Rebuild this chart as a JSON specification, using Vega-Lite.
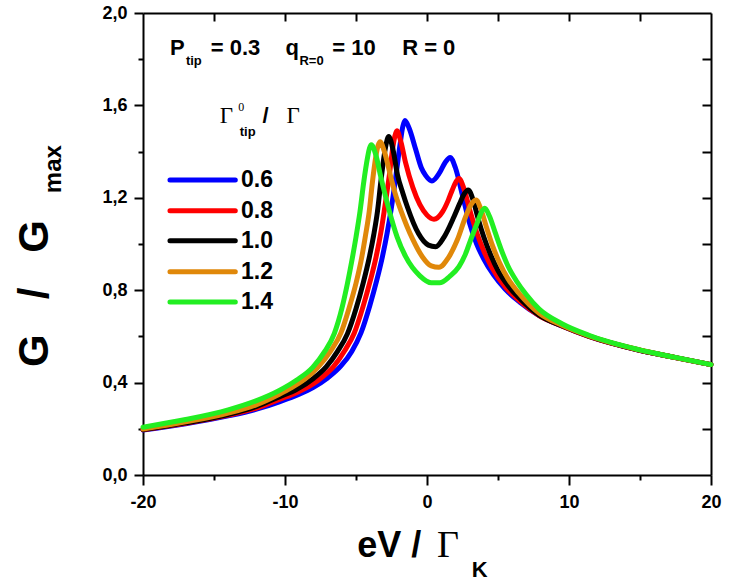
{
  "$schema": "https://vega.github.io/schema/vega-lite/v6.json",
  "description": "Normalized conductance G/Gmax versus eV/Gamma_K for five tip coupling ratios.",
  "width": 568,
  "height": 462,
  "autosize": {"type": "none"},
  "padding": {"left": 143, "top": 13, "right": 28, "bottom": 106},
  "background": "white",
  "layer": [
    {
      "data": {
        "values": [
          {"ratio": "0.6", "eV": -20, "G": 0.195}, {"ratio": "0.6", "eV": -17, "G": 0.222}, {"ratio": "0.6", "eV": -14, "G": 0.256},
          {"ratio": "0.6", "eV": -12, "G": 0.285}, {"ratio": "0.6", "eV": -10.4, "G": 0.317}, {"ratio": "0.6", "eV": -9, "G": 0.35},
          {"ratio": "0.6", "eV": -8, "G": 0.38}, {"ratio": "0.6", "eV": -7, "G": 0.42}, {"ratio": "0.6", "eV": -6.06, "G": 0.472},
          {"ratio": "0.6", "eV": -5.3, "G": 0.535}, {"ratio": "0.6", "eV": -4.65, "G": 0.615}, {"ratio": "0.6", "eV": -4.02, "G": 0.735},
          {"ratio": "0.6", "eV": -3.55, "G": 0.84}, {"ratio": "0.6", "eV": -3.14, "G": 0.945}, {"ratio": "0.6", "eV": -2.8, "G": 1.05},
          {"ratio": "0.6", "eV": -2.55, "G": 1.14}, {"ratio": "0.6", "eV": -2.2, "G": 1.29}, {"ratio": "0.6", "eV": -1.9, "G": 1.43},
          {"ratio": "0.6", "eV": -1.7, "G": 1.51}, {"ratio": "0.6", "eV": -1.55, "G": 1.535}, {"ratio": "0.6", "eV": -1.25, "G": 1.5},
          {"ratio": "0.6", "eV": -0.8, "G": 1.41}, {"ratio": "0.6", "eV": -0.4, "G": 1.33}, {"ratio": "0.6", "eV": -0.1, "G": 1.297},
          {"ratio": "0.6", "eV": 0.35, "G": 1.273}, {"ratio": "0.6", "eV": 0.9, "G": 1.31}, {"ratio": "0.6", "eV": 1.3, "G": 1.355},
          {"ratio": "0.6", "eV": 1.63, "G": 1.375}, {"ratio": "0.6", "eV": 2.0, "G": 1.33}, {"ratio": "0.6", "eV": 2.5, "G": 1.21},
          {"ratio": "0.6", "eV": 3.0, "G": 1.09}, {"ratio": "0.6", "eV": 3.5, "G": 1.0}, {"ratio": "0.6", "eV": 4.0, "G": 0.935},
          {"ratio": "0.6", "eV": 4.7, "G": 0.865}, {"ratio": "0.6", "eV": 5.5, "G": 0.805}, {"ratio": "0.6", "eV": 6.5, "G": 0.75},
          {"ratio": "0.6", "eV": 7.9, "G": 0.69}, {"ratio": "0.6", "eV": 9.5, "G": 0.645}, {"ratio": "0.6", "eV": 11.4, "G": 0.6},
          {"ratio": "0.6", "eV": 14.9, "G": 0.541}, {"ratio": "0.6", "eV": 17.5, "G": 0.508}, {"ratio": "0.6", "eV": 20, "G": 0.478},

          {"ratio": "0.8", "eV": -20, "G": 0.196}, {"ratio": "0.8", "eV": -17, "G": 0.224}, {"ratio": "0.8", "eV": -14, "G": 0.259},
          {"ratio": "0.8", "eV": -12, "G": 0.29}, {"ratio": "0.8", "eV": -10.4, "G": 0.327}, {"ratio": "0.8", "eV": -9, "G": 0.362},
          {"ratio": "0.8", "eV": -8, "G": 0.395}, {"ratio": "0.8", "eV": -7.5, "G": 0.418}, {"ratio": "0.8", "eV": -6.6, "G": 0.468},
          {"ratio": "0.8", "eV": -5.8, "G": 0.538}, {"ratio": "0.8", "eV": -5.12, "G": 0.615}, {"ratio": "0.8", "eV": -4.5, "G": 0.73},
          {"ratio": "0.8", "eV": -4.0, "G": 0.84}, {"ratio": "0.8", "eV": -3.6, "G": 0.94}, {"ratio": "0.8", "eV": -3.25, "G": 1.05},
          {"ratio": "0.8", "eV": -3.02, "G": 1.14}, {"ratio": "0.8", "eV": -2.67, "G": 1.29}, {"ratio": "0.8", "eV": -2.4, "G": 1.42},
          {"ratio": "0.8", "eV": -2.25, "G": 1.47}, {"ratio": "0.8", "eV": -2.12, "G": 1.49}, {"ratio": "0.8", "eV": -1.85, "G": 1.445},
          {"ratio": "0.8", "eV": -1.5, "G": 1.35}, {"ratio": "0.8", "eV": -1.0, "G": 1.245}, {"ratio": "0.8", "eV": -0.5, "G": 1.17},
          {"ratio": "0.8", "eV": 0.0, "G": 1.125}, {"ratio": "0.8", "eV": 0.49, "G": 1.107}, {"ratio": "0.8", "eV": 1.1, "G": 1.14},
          {"ratio": "0.8", "eV": 1.5, "G": 1.19}, {"ratio": "0.8", "eV": 1.78, "G": 1.234}, {"ratio": "0.8", "eV": 2.05, "G": 1.27},
          {"ratio": "0.8", "eV": 2.25, "G": 1.284}, {"ratio": "0.8", "eV": 2.6, "G": 1.24}, {"ratio": "0.8", "eV": 3.0, "G": 1.15},
          {"ratio": "0.8", "eV": 3.5, "G": 1.05}, {"ratio": "0.8", "eV": 4.0, "G": 0.97}, {"ratio": "0.8", "eV": 4.6, "G": 0.895},
          {"ratio": "0.8", "eV": 5.5, "G": 0.815}, {"ratio": "0.8", "eV": 6.5, "G": 0.755}, {"ratio": "0.8", "eV": 7.9, "G": 0.69},
          {"ratio": "0.8", "eV": 9.5, "G": 0.645}, {"ratio": "0.8", "eV": 11.4, "G": 0.6}, {"ratio": "0.8", "eV": 14.9, "G": 0.541},
          {"ratio": "0.8", "eV": 17.5, "G": 0.508}, {"ratio": "0.8", "eV": 20, "G": 0.478},

          {"ratio": "1.0", "eV": -20, "G": 0.197}, {"ratio": "1.0", "eV": -17, "G": 0.226}, {"ratio": "1.0", "eV": -14, "G": 0.262},
          {"ratio": "1.0", "eV": -12, "G": 0.297}, {"ratio": "1.0", "eV": -10.4, "G": 0.338}, {"ratio": "1.0", "eV": -9.2, "G": 0.37},
          {"ratio": "1.0", "eV": -8.0, "G": 0.418}, {"ratio": "1.0", "eV": -7.1, "G": 0.468}, {"ratio": "1.0", "eV": -6.3, "G": 0.535},
          {"ratio": "1.0", "eV": -5.6, "G": 0.612}, {"ratio": "1.0", "eV": -5.0, "G": 0.72}, {"ratio": "1.0", "eV": -4.5, "G": 0.83},
          {"ratio": "1.0", "eV": -4.07, "G": 0.94}, {"ratio": "1.0", "eV": -3.75, "G": 1.04}, {"ratio": "1.0", "eV": -3.49, "G": 1.14},
          {"ratio": "1.0", "eV": -3.25, "G": 1.27}, {"ratio": "1.0", "eV": -3.0, "G": 1.39}, {"ratio": "1.0", "eV": -2.85, "G": 1.44},
          {"ratio": "1.0", "eV": -2.7, "G": 1.465}, {"ratio": "1.0", "eV": -2.4, "G": 1.41}, {"ratio": "1.0", "eV": -2.08, "G": 1.3},
          {"ratio": "1.0", "eV": -1.7, "G": 1.22}, {"ratio": "1.0", "eV": -1.38, "G": 1.16}, {"ratio": "1.0", "eV": -0.6, "G": 1.045},
          {"ratio": "1.0", "eV": 0.1, "G": 0.995}, {"ratio": "1.0", "eV": 0.61, "G": 0.988}, {"ratio": "1.0", "eV": 1.2, "G": 1.03},
          {"ratio": "1.0", "eV": 1.9, "G": 1.118}, {"ratio": "1.0", "eV": 2.3, "G": 1.175}, {"ratio": "1.0", "eV": 2.6, "G": 1.215},
          {"ratio": "1.0", "eV": 2.9, "G": 1.234}, {"ratio": "1.0", "eV": 3.25, "G": 1.19}, {"ratio": "1.0", "eV": 3.6, "G": 1.11},
          {"ratio": "1.0", "eV": 4.0, "G": 1.03}, {"ratio": "1.0", "eV": 4.5, "G": 0.95}, {"ratio": "1.0", "eV": 5.0, "G": 0.885},
          {"ratio": "1.0", "eV": 5.7, "G": 0.82}, {"ratio": "1.0", "eV": 6.6, "G": 0.76}, {"ratio": "1.0", "eV": 7.9, "G": 0.692},
          {"ratio": "1.0", "eV": 9.5, "G": 0.646}, {"ratio": "1.0", "eV": 11.4, "G": 0.601}, {"ratio": "1.0", "eV": 14.9, "G": 0.541},
          {"ratio": "1.0", "eV": 17.5, "G": 0.508}, {"ratio": "1.0", "eV": 20, "G": 0.478},

          {"ratio": "1.2", "eV": -20, "G": 0.199}, {"ratio": "1.2", "eV": -17, "G": 0.23}, {"ratio": "1.2", "eV": -14, "G": 0.268},
          {"ratio": "1.2", "eV": -12, "G": 0.305}, {"ratio": "1.2", "eV": -10.4, "G": 0.35}, {"ratio": "1.2", "eV": -9.6, "G": 0.376},
          {"ratio": "1.2", "eV": -8.6, "G": 0.415}, {"ratio": "1.2", "eV": -7.7, "G": 0.465}, {"ratio": "1.2", "eV": -6.8, "G": 0.535},
          {"ratio": "1.2", "eV": -6.06, "G": 0.615}, {"ratio": "1.2", "eV": -5.5, "G": 0.72}, {"ratio": "1.2", "eV": -5.0, "G": 0.83},
          {"ratio": "1.2", "eV": -4.65, "G": 0.925}, {"ratio": "1.2", "eV": -4.35, "G": 1.03}, {"ratio": "1.2", "eV": -4.07, "G": 1.14},
          {"ratio": "1.2", "eV": -3.84, "G": 1.27}, {"ratio": "1.2", "eV": -3.6, "G": 1.38}, {"ratio": "1.2", "eV": -3.45, "G": 1.425},
          {"ratio": "1.2", "eV": -3.3, "G": 1.443}, {"ratio": "1.2", "eV": -3.0, "G": 1.4}, {"ratio": "1.2", "eV": -2.55, "G": 1.29},
          {"ratio": "1.2", "eV": -2.2, "G": 1.21}, {"ratio": "1.2", "eV": -1.85, "G": 1.147}, {"ratio": "1.2", "eV": -1.0, "G": 1.02},
          {"ratio": "1.2", "eV": -0.33, "G": 0.945}, {"ratio": "1.2", "eV": 0.3, "G": 0.905}, {"ratio": "1.2", "eV": 0.84, "G": 0.899},
          {"ratio": "1.2", "eV": 1.5, "G": 0.94}, {"ratio": "1.2", "eV": 2.13, "G": 1.017}, {"ratio": "1.2", "eV": 2.72, "G": 1.118},
          {"ratio": "1.2", "eV": 3.1, "G": 1.17}, {"ratio": "1.2", "eV": 3.46, "G": 1.19}, {"ratio": "1.2", "eV": 3.8, "G": 1.15},
          {"ratio": "1.2", "eV": 4.2, "G": 1.07}, {"ratio": "1.2", "eV": 4.6, "G": 0.995}, {"ratio": "1.2", "eV": 5.1, "G": 0.92},
          {"ratio": "1.2", "eV": 5.7, "G": 0.85}, {"ratio": "1.2", "eV": 6.5, "G": 0.785}, {"ratio": "1.2", "eV": 7.9, "G": 0.7},
          {"ratio": "1.2", "eV": 9.5, "G": 0.648}, {"ratio": "1.2", "eV": 11.4, "G": 0.602}, {"ratio": "1.2", "eV": 14.9, "G": 0.542},
          {"ratio": "1.2", "eV": 17.5, "G": 0.508}, {"ratio": "1.2", "eV": 20, "G": 0.478},

          {"ratio": "1.4", "eV": -20, "G": 0.207}, {"ratio": "1.4", "eV": -17, "G": 0.24}, {"ratio": "1.4", "eV": -14, "G": 0.282},
          {"ratio": "1.4", "eV": -12, "G": 0.322}, {"ratio": "1.4", "eV": -10.4, "G": 0.366}, {"ratio": "1.4", "eV": -9.2, "G": 0.41},
          {"ratio": "1.4", "eV": -8.05, "G": 0.466}, {"ratio": "1.4", "eV": -7.2, "G": 0.535}, {"ratio": "1.4", "eV": -6.53, "G": 0.612},
          {"ratio": "1.4", "eV": -6.0, "G": 0.72}, {"ratio": "1.4", "eV": -5.6, "G": 0.83}, {"ratio": "1.4", "eV": -5.3, "G": 0.925},
          {"ratio": "1.4", "eV": -5.0, "G": 1.03}, {"ratio": "1.4", "eV": -4.72, "G": 1.14}, {"ratio": "1.4", "eV": -4.45, "G": 1.27},
          {"ratio": "1.4", "eV": -4.2, "G": 1.37}, {"ratio": "1.4", "eV": -4.05, "G": 1.415}, {"ratio": "1.4", "eV": -3.92, "G": 1.43},
          {"ratio": "1.4", "eV": -3.6, "G": 1.385}, {"ratio": "1.4", "eV": -3.25, "G": 1.29}, {"ratio": "1.4", "eV": -2.67, "G": 1.147},
          {"ratio": "1.4", "eV": -2.1, "G": 1.03}, {"ratio": "1.4", "eV": -1.5, "G": 0.945}, {"ratio": "1.4", "eV": -0.5, "G": 0.862},
          {"ratio": "1.4", "eV": 0.3, "G": 0.832}, {"ratio": "1.4", "eV": 0.89, "G": 0.832}, {"ratio": "1.4", "eV": 1.6, "G": 0.86},
          {"ratio": "1.4", "eV": 2.25, "G": 0.902}, {"ratio": "1.4", "eV": 2.7, "G": 0.955}, {"ratio": "1.4", "eV": 3.07, "G": 1.017},
          {"ratio": "1.4", "eV": 3.53, "G": 1.09}, {"ratio": "1.4", "eV": 3.85, "G": 1.14}, {"ratio": "1.4", "eV": 4.07, "G": 1.155},
          {"ratio": "1.4", "eV": 4.4, "G": 1.12}, {"ratio": "1.4", "eV": 4.8, "G": 1.05}, {"ratio": "1.4", "eV": 5.2, "G": 0.98},
          {"ratio": "1.4", "eV": 5.7, "G": 0.905}, {"ratio": "1.4", "eV": 6.3, "G": 0.84}, {"ratio": "1.4", "eV": 7.0, "G": 0.78},
          {"ratio": "1.4", "eV": 7.9, "G": 0.718}, {"ratio": "1.4", "eV": 9.5, "G": 0.655}, {"ratio": "1.4", "eV": 11.4, "G": 0.605},
          {"ratio": "1.4", "eV": 14.9, "G": 0.543}, {"ratio": "1.4", "eV": 17.5, "G": 0.509}, {"ratio": "1.4", "eV": 20, "G": 0.478}
        ]
      },
      "mark": {"type": "line", "interpolate": "monotone", "strokeWidth": 5, "strokeCap": "round", "strokeJoin": "round"},
      "encoding": {
        "x": {
          "field": "eV",
          "type": "quantitative",
          "scale": {"domain": [-20, 20], "nice": false, "zero": false},
          "axis": {
            "orient": "bottom",
            "title": null,
            "values": [-20, -15, -10, -5, 0, 5, 10, 15, 20],
            "tickSize": {"condition": {"test": "datum.value % 10 == 0", "value": 10}, "value": 5},
            "labelExpr": "datum.value % 10 == 0 ? replace(format(datum.value, 'd'), '\u2212', '-') : ''",
            "labelPadding": 8
          }
        },
        "y": {
          "field": "G",
          "type": "quantitative",
          "scale": {"domain": [0, 2], "nice": false, "zero": false},
          "axis": {
            "orient": "left",
            "title": null,
            "values": [0, 0.2, 0.4, 0.6, 0.8, 1.0, 1.2, 1.4, 1.6, 1.8, 2.0],
            "tickSize": {"condition": {"test": "round(datum.value * 10) % 4 == 0", "value": 9}, "value": 5},
            "labelExpr": "round(datum.value * 10) % 4 == 0 ? replace(format(datum.value, '.1f'), '.', ',') : ''",
            "labelPadding": 7
          }
        },
        "color": {
          "field": "ratio",
          "type": "nominal",
          "scale": {"domain": ["0.6", "0.8", "1.0", "1.2", "1.4"], "range": ["#0000ff", "#ff0000", "#000000", "#e0880a", "#22ee22"]},
          "legend": null
        }
      }
    },
    {
      "data": {
        "values": [
          {"ratio": "0.6", "x1": -18.1, "x2": -13.5, "y": 1.277},
          {"ratio": "0.8", "x1": -18.1, "x2": -13.5, "y": 1.144},
          {"ratio": "1.0", "x1": -18.1, "x2": -13.5, "y": 1.014},
          {"ratio": "1.2", "x1": -18.1, "x2": -13.5, "y": 0.88},
          {"ratio": "1.4", "x1": -18.1, "x2": -13.5, "y": 0.749}
        ]
      },
      "mark": {"type": "rule", "strokeWidth": 5, "strokeCap": "round"},
      "encoding": {
        "x": {
          "field": "x1",
          "type": "quantitative",
          "axis": {
            "orient": "top",
            "title": null,
            "labels": false,
            "values": [-15, -10, -5, 0, 5, 10, 15],
            "tickSize": -8
          }
        },
        "x2": {"field": "x2"},
        "y": {
          "field": "y",
          "type": "quantitative",
          "axis": {
            "orient": "right",
            "title": null,
            "labels": false,
            "values": [0.2, 0.4, 0.6, 0.8, 1.0, 1.2, 1.4, 1.6, 1.8],
            "tickSize": -9
          }
        },
        "color": {"field": "ratio", "type": "nominal", "legend": null}
      }
    },
    {
      "data": {
        "values": [
          {"label": "0.6", "x": -13.1, "y": 1.277},
          {"label": "0.8", "x": -13.1, "y": 1.144},
          {"label": "1.0", "x": -13.1, "y": 1.014},
          {"label": "1.2", "x": -13.1, "y": 0.88},
          {"label": "1.4", "x": -13.1, "y": 0.749}
        ]
      },
      "mark": {"type": "text", "align": "left", "baseline": "middle", "font": "Liberation Sans", "fontWeight": "bold", "fontSize": 23, "color": "#000"},
      "encoding": {
        "x": {"field": "x", "type": "quantitative", "axis": null},
        "y": {"field": "y", "type": "quantitative", "axis": null},
        "text": {"field": "label"}
      }
    },
    {
      "data": {
        "values": [
          {"t": "P", "x": -18.1, "y": 1.818},
          {"t": "= 0.3", "x": -15.23, "y": 1.818},
          {"t": "q", "x": -9.96, "y": 1.818},
          {"t": "= 10", "x": -6.67, "y": 1.818},
          {"t": "R = 0", "x": -1.75, "y": 1.818},
          {"t": "/", "x": -11.58, "y": 1.524},
          {"t": "K", "x": 3.16, "y": -0.4416}
        ]
      },
      "mark": {"type": "text", "align": "left", "baseline": "alphabetic", "font": "Liberation Sans", "fontWeight": "bold", "fontSize": 22, "color": "#000", "clip": false},
      "encoding": {
        "x": {"field": "x", "type": "quantitative", "axis": null},
        "y": {"field": "y", "type": "quantitative", "axis": null},
        "text": {"field": "t"}
      }
    },
    {
      "data": {
        "values": [
          {"t": "tip", "x": -16.98, "y": 1.775},
          {"t": "R=0", "x": -8.98, "y": 1.775},
          {"t": "tip", "x": -13.19, "y": 1.468}
        ]
      },
      "mark": {"type": "text", "align": "left", "baseline": "alphabetic", "font": "Liberation Sans", "fontWeight": "bold", "fontSize": 13, "color": "#000"},
      "encoding": {
        "x": {"field": "x", "type": "quantitative", "axis": null},
        "y": {"field": "y", "type": "quantitative", "axis": null},
        "text": {"field": "t"}
      }
    },
    {
      "data": {
        "values": [
          {"t": "Γ", "x": -14.6, "y": 1.524},
          {"t": "Γ", "x": -9.89, "y": 1.524}
        ]
      },
      "mark": {"type": "text", "align": "left", "baseline": "alphabetic", "font": "Liberation Serif", "fontSize": 23, "color": "#000"},
      "encoding": {
        "x": {"field": "x", "type": "quantitative", "axis": null},
        "y": {"field": "y", "type": "quantitative", "axis": null},
        "text": {"field": "t"}
      }
    },
    {
      "data": {"values": [{"t": "0", "x": -13.3, "y": 1.575}]},
      "mark": {"type": "text", "align": "left", "baseline": "alphabetic", "font": "Liberation Serif", "fontSize": 12, "color": "#000"},
      "encoding": {
        "x": {"field": "x", "type": "quantitative", "axis": null},
        "y": {"field": "y", "type": "quantitative", "axis": null},
        "text": {"field": "t"}
      }
    },
    {
      "data": {"values": [{"t": "eV /", "x": -4.91, "y": -0.355}]},
      "mark": {"type": "text", "align": "left", "baseline": "alphabetic", "font": "Liberation Sans", "fontWeight": "bold", "fontSize": 36, "color": "#000", "clip": false},
      "encoding": {
        "x": {"field": "x", "type": "quantitative", "axis": null},
        "y": {"field": "y", "type": "quantitative", "axis": null},
        "text": {"field": "t"}
      }
    },
    {
      "data": {"values": [{"t": "Γ", "x": 0.7, "y": -0.355}]},
      "mark": {"type": "text", "align": "left", "baseline": "alphabetic", "font": "Liberation Serif", "fontSize": 38, "color": "#000", "clip": false},
      "encoding": {
        "x": {"field": "x", "type": "quantitative", "axis": null},
        "y": {"field": "y", "type": "quantitative", "axis": null},
        "text": {"field": "t"}
      }
    },
    {
      "data": {"values": [{"t": "G\u00a0\u00a0\u00a0/\u00a0\u00a0\u00a0G", "x": -26.67, "y": 0.4675}]},
      "mark": {"type": "text", "align": "left", "baseline": "alphabetic", "angle": 270, "font": "Liberation Sans", "fontWeight": "bold", "fontSize": 42, "color": "#000", "clip": false},
      "encoding": {
        "x": {"field": "x", "type": "quantitative", "axis": null},
        "y": {"field": "y", "type": "quantitative", "axis": null},
        "text": {"field": "t"}
      }
    },
    {
      "data": {"values": [{"t": "max", "x": -25.75, "y": 1.22}]},
      "mark": {"type": "text", "align": "left", "baseline": "alphabetic", "angle": 270, "font": "Liberation Sans", "fontWeight": "bold", "fontSize": 24, "color": "#000", "clip": false},
      "encoding": {
        "x": {"field": "x", "type": "quantitative", "axis": null},
        "y": {"field": "y", "type": "quantitative", "axis": null},
        "text": {"field": "t"}
      }
    }
  ],
  "resolve": {"axis": {"x": "independent", "y": "independent"}},
  "config": {
    "view": {"stroke": null},
    "axis": {
      "grid": false,
      "domainColor": "#000",
      "domainWidth": 2,
      "tickColor": "#000",
      "tickWidth": 2,
      "labelFont": "Liberation Sans",
      "labelFontWeight": "bold",
      "labelFontSize": 18,
      "labelColor": "#000",
      "labelFlush": false,
      "labelOverlap": false
    }
  }
}
